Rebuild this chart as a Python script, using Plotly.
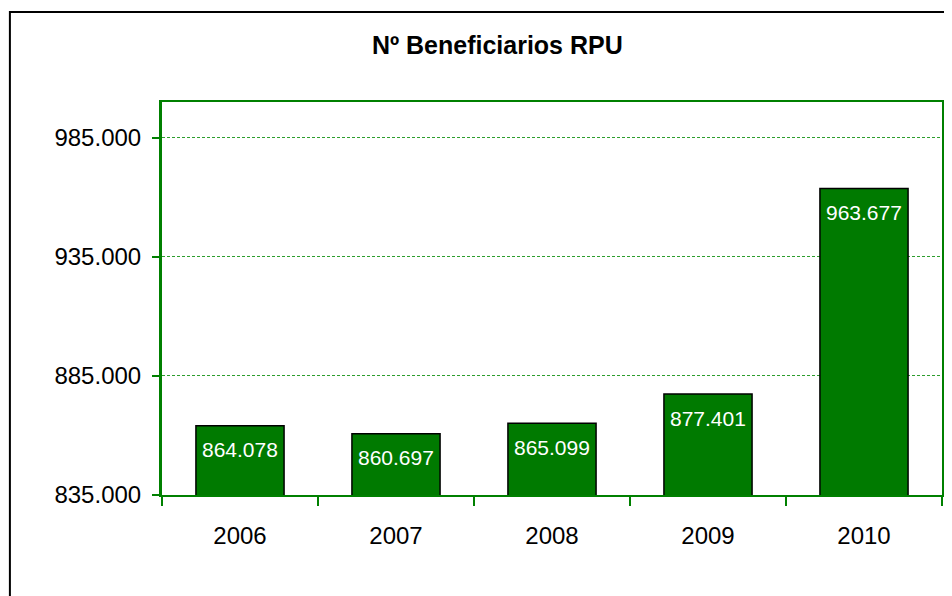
import plotly.graph_objects as go

years = ["2006", "2007", "2008", "2009", "2010"]
beneficiarios = [864078, 860697, 865099, 877401, 963677]
labels = ["864.078", "860.697", "865.099", "877.401", "963.677"]
ytick_vals = [835000, 885000, 935000, 985000]
ytick_text = ["835.000", "885.000", "935.000", "985.000"]

GREEN = "#007A00"
FONT = "Liberation Sans, Arial, sans-serif"

fig = go.Figure()
fig.add_trace(go.Bar(
    x=years, y=beneficiarios,
    marker=dict(color=GREEN, line=dict(color="black", width=1.5)),
    hoverinfo="skip",
))

for i, (v, t) in enumerate(zip(beneficiarios, labels)):
    fig.add_annotation(x=i, y=v, text=t, showarrow=False, yanchor="middle",
                       yshift=-24, font=dict(family=FONT, size=21, color="white"))

# outer chart border
fig.add_shape(type="rect", xref="paper", yref="paper",
              x0=-0.195, x1=1.05, y0=-0.4, y1=1.229,
              line=dict(color="black", width=2), fillcolor="rgba(0,0,0,0)", layer="below")

fig.update_layout(
    width=952, height=596,
    margin=dict(l=154, r=18, t=94, b=109, autoexpand=False),
    paper_bgcolor="white", plot_bgcolor="white",
    bargap=0.435,
    showlegend=False,
    title=dict(text="<b>Nº Beneficiarios RPU</b>", x=0.514, xanchor="center",
               y=0.938, yanchor="middle",
               font=dict(family=FONT, size=25, color="black")),
    font=dict(family=FONT, size=24, color="black"),
)
fig.update_xaxes(
    type="category", range=[-0.5, 4.5], autorange=False,
    tickson="boundaries", ticks="outside", ticklen=9,
    tickwidth=2, tickcolor="#008000",
    showline=True, linecolor="#008000", linewidth=2, mirror=True,
    showgrid=False, automargin=False, tickangle=0, ticklabelstandoff=18,
    tickfont=dict(family=FONT, size=24, color="black"),
)
fig.update_yaxes(
    range=[835000, 1000000], autorange=False,
    tickvals=ytick_vals, ticktext=ytick_text,
    ticks="outside", ticklen=7, tickwidth=2, tickcolor="#008000",
    showline=True, linecolor="#008000", linewidth=3, mirror=True,
    showgrid=True, gridcolor="#2e9e2e", gridwidth=1, griddash="3px,2px",
    zeroline=False, ticklabelstandoff=6, automargin=False,
    tickfont=dict(family=FONT, size=24, color="black"),
)

fig.write_html("out.html")
